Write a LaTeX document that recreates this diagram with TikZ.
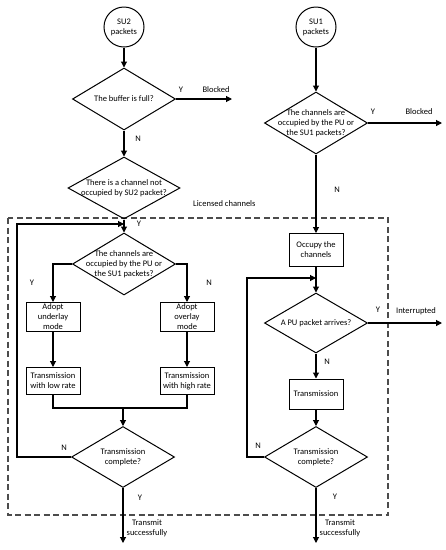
\documentclass[tikz,border=0pt]{standalone}
\usepackage{fontspec}
\setmainfont{Carlito}
\usetikzlibrary{arrows.meta, shapes.geometric}

\begin{document}
\begin{tikzpicture}[
    x=1pt, y=-1pt,
    >={Triangle[length=6pt, width=6pt]},
    font=\fontsize{8.5}{10}\selectfont,
    src/.style={draw, circle, line width=1pt, minimum size=40pt,
                align=center, inner sep=0pt},
    box/.style={draw, line width=1pt, align=center,
                minimum width=54pt, inner sep=1pt},
    decision/.style={draw, diamond, line width=1pt,
                     minimum width=103pt, minimum height=62pt, inner sep=0pt},
    dtxt/.style={align=center, inner sep=0pt},
    ln/.style={line width=1.1pt},
    arr/.style={->, line width=1.1pt},
    lbl/.style={inner sep=1pt},
    region/.style={draw=black!70, line width=1.2pt, dash pattern=on 6pt off 3.5pt},
]
\useasboundingbox (0,0) rectangle (446,550);

% ---- licensed channels region ----
\draw[region] (8,218) rectangle (388,515);
\node[lbl, anchor=west] (lic) at (192,204) {Licensed channels};

% ---- SU2 column (left) ----
\node[src] (su2) at (124,27) {SU2\\packets};
\node[decision] (full) at (124,99) {};
\node[dtxt] (fullt) at (full) {The buffer is full?};
\node[decision, minimum width=112pt] (free) at (124,188) {};
\node[dtxt] (freet) at (free) {There is a channel not\\occupied by SU2 packet?};
\coordinate (j1) at (124,224);
\node[decision] (occ2) at (124,264) {};
\node[dtxt] (occ2t) at (occ2) {The channels are\\occupied by the PU or\\the SU1 packets?};
\node[box, minimum height=29pt] (under) at (53,317) {Adopt\\underlay\\mode};
\node[box, minimum height=29pt] (over) at (187,317) {Adopt\\overlay\\mode};
\node[box, minimum height=27pt] (low) at (53,381) {Transmission\\with low rate};
\node[box, minimum height=27pt] (high) at (187,381) {Transmission\\with high rate};
\coordinate (m1) at (123,408);
\node[decision, minimum height=61pt] (done2) at (123,457) {};
\node[dtxt] (done2t) at (done2) {Transmission\\complete?};
\coordinate (blk2) at (232,99);
\coordinate (out2) at (123,543);

% ---- SU1 column (right) ----
\node[src] (su1) at (316,27) {SU1\\packets};
\node[decision] (occ1) at (316,123) {};
\node[dtxt] (occ1t) at (occ1) {The channels are\\occupied by the PU or\\the SU1 packets?};
\node[box, minimum height=33pt] (take) at (316,250) {Occupy the\\channels};
\coordinate (j2) at (316,278);
\node[decision, minimum height=60pt] (pu) at (316,323) {};
\node[dtxt] (put) at (pu) {A PU packet arrives?};
\node[box, minimum height=30pt] (tx) at (316,394) {Transmission};
\node[decision, minimum height=61pt] (done1) at (316,457) {};
\node[dtxt] (done1t) at (done1) {Transmission\\complete?};
\coordinate (blk1) at (442,123);
\coordinate (intr) at (442,323);
\coordinate (out1) at (316,543);

% ---- connectors, left ----
\draw[arr] (su2) -- (full);
\draw[arr] (full.east) -- (blk2);
\draw[arr] (full) -- (free);
\draw[arr] (free.south) -- (occ2.north);
\draw[arr] (occ2.west) -| (under);
\draw[arr] (occ2.east) -| (over);
\draw[arr] (under) -- (low);
\draw[arr] (over) -- (high);
\draw[ln] (low.south) |- (m1) -| (high.south);
\draw[arr] (m1) -- (done2.north);
\draw[arr] (done2.west) -- (17,457) |- (j1);
\draw[arr] (done2.south) -- (out2);

% ---- connectors, right ----
\draw[arr] (su1) -- (occ1);
\draw[arr] (occ1.east) -- (blk1);
\draw[arr] (occ1) -- (take);
\draw[arr] (take) -- (pu);
\draw[arr] (pu.east) -- (intr);
\draw[arr] (pu) -- (tx);
\draw[arr] (tx) -- (done1);
\draw[arr] (done1.west) -- (247,457) |- (j2);
\draw[arr] (done1.south) -- (out1);

% ---- Y / N and outcome labels ----
\node[lbl] (y1) at (181,90) {Y};
\node[lbl] (bl2) at (216,90) {Blocked};
\node[lbl] (n1) at (138,139) {N};
\node[lbl] (y2) at (139,224) {Y};
\node[lbl] (y3) at (32,283) {Y};
\node[lbl] (n3) at (209,283) {N};
\node[lbl] (n4) at (64,448) {N};
\node[lbl] (y4) at (140,498) {Y};
\node[lbl, align=center] (ok2) at (147,528) {Transmit\\successfully};
\node[lbl] (y5) at (373,112) {Y};
\node[lbl] (bl1) at (419,112) {Blocked};
\node[lbl] (n5) at (337,190) {N};
\node[lbl] (y6) at (378,310) {Y};
\node[lbl] (int) at (416,311) {Interrupted};
\node[lbl] (n6) at (327,362) {N};
\node[lbl] (n7) at (258,446) {N};
\node[lbl] (y7) at (335,497) {Y};
\node[lbl, align=center] (ok1) at (340,528) {Transmit\\successfully};
\end{tikzpicture}
\end{document}
